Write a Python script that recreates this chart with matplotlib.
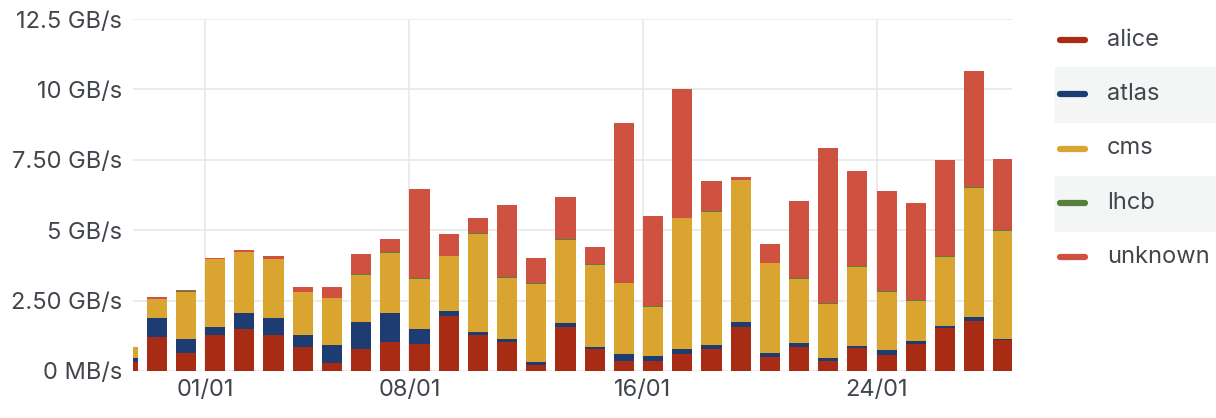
import pandas as pd
import matplotlib
matplotlib.use('Agg')
import matplotlib.pyplot as plt
import matplotlib.dates as mdates
from matplotlib.lines import Line2D
from matplotlib.patches import Rectangle

days = pd.date_range('2023-12-29', '2024-01-28', freq='D')

alice = [0.33, 1.22, 0.63, 1.28, 1.50, 1.28, 0.86, 0.30, 0.78, 1.03, 0.96, 1.96, 1.29, 1.02, 0.21, 1.57,
         0.79, 0.37, 0.37, 0.59, 0.77, 1.55, 0.51, 0.86, 0.36, 0.81, 0.57, 0.95, 1.52, 1.79, 1.10]
atlas = [0.13, 0.65, 0.51, 0.28, 0.56, 0.61, 0.42, 0.61, 0.96, 1.02, 0.53, 0.17, 0.11, 0.11, 0.12, 0.12,
         0.07, 0.23, 0.17, 0.18, 0.15, 0.18, 0.12, 0.12, 0.11, 0.09, 0.18, 0.12, 0.08, 0.14, 0.04]
cms = [0.38, 0.69, 1.68, 2.42, 2.17, 2.08, 1.51, 1.69, 1.68, 2.14, 1.79, 1.94, 3.48, 2.18, 2.75, 2.96,
       2.90, 2.51, 1.74, 4.65, 4.74, 5.05, 3.19, 2.28, 1.90, 2.80, 2.07, 1.43, 2.46, 4.56, 3.83]
lhcb = [0.00, 0.01, 0.01, 0.01, 0.01, 0.01, 0.01, 0.01, 0.02, 0.02, 0.02, 0.02, 0.02, 0.02, 0.03, 0.03,
        0.03, 0.03, 0.03, 0.03, 0.02, 0.02, 0.03, 0.03, 0.03, 0.03, 0.03, 0.03, 0.03, 0.05, 0.03]
unknown = [0.00, 0.07, 0.05, 0.03, 0.06, 0.10, 0.17, 0.37, 0.71, 0.49, 3.16, 0.76, 0.54, 2.56, 0.91, 1.49,
           0.61, 5.68, 3.21, 4.56, 1.07, 0.10, 0.66, 2.75, 5.51, 3.38, 3.54, 3.42, 3.40, 4.13, 2.53]

series_names = ['alice', 'atlas', 'cms', 'lhcb', 'unknown']
series_values = [alice, atlas, cms, lhcb, unknown]
colors = ['#a82c14', '#1c3c72', '#d9a430', '#56803c', '#cf5240']

ytick_values = [0, 2.5, 5, 7.5, 10, 12.5]
ytick_labels = ['0 MB/s', '2.50 GB/s', '5 GB/s', '7.50 GB/s', '10 GB/s', '12.5 GB/s']
xtick_days = ['2024-01-01', '2024-01-08', '2024-01-16', '2024-01-24']

text_color = '#41464d'
grid_color = '#e8e8e8'
plt.rcParams['font.family'] = ['Inter', 'DejaVu Sans']

W, H = 1216, 418
fig = plt.figure(figsize=(W / 100, H / 100), dpi=100)
ax = fig.add_axes([133 / W, 47 / H, (1012 - 133) / W, (371 - 19) / H])

x = mdates.date2num(days)
bottom = [0.0] * len(days)
for name, vals, c in zip(series_names, series_values, colors):
    ax.bar(x, vals, width=0.69, bottom=bottom, align='edge', color=c, linewidth=0, zorder=2)
    bottom = [b + v for b, v in zip(bottom, vals)]

ax.set_xlim(x[0] + 0.53, x[-1] + 0.64)
ax.set_ylim(0, 12.5)
ax.set_yticks(ytick_values)
ax.set_yticklabels(ytick_labels)
ax.set_xticks(mdates.date2num(pd.to_datetime(xtick_days)))
ax.xaxis.set_major_formatter(mdates.DateFormatter('%d/%m'))

ax.grid(True, color=grid_color, linewidth=1.2, zorder=0)
for s in ax.spines.values():
    s.set_visible(False)
ax.tick_params(length=0, labelsize=17, colors=text_color)
ax.tick_params(axis='y', pad=8)
ax.tick_params(axis='x', pad=6)

# legend on the right
row_y = [39.5, 94, 148.5, 203, 257]
for i, (name, c, yc) in enumerate(zip(series_names, colors, row_y)):
    if i % 2 == 1:
        fig.add_artist(Rectangle((1055 / W, 1 - (yc + 27.5) / H), (W - 1055) / W, 55 / H,
                                 transform=fig.transFigure, color='#f4f5f5', zorder=0))
    fig.add_artist(Line2D([1060 / W, 1085 / W], [1 - yc / H, 1 - yc / H], transform=fig.transFigure,
                          color=c, linewidth=4.5, solid_capstyle='round'))
    fig.text(1107 / W, 1 - yc / H, name, fontsize=17, color=text_color, va='center', ha='left')

fig.savefig('out.png', dpi=100)
